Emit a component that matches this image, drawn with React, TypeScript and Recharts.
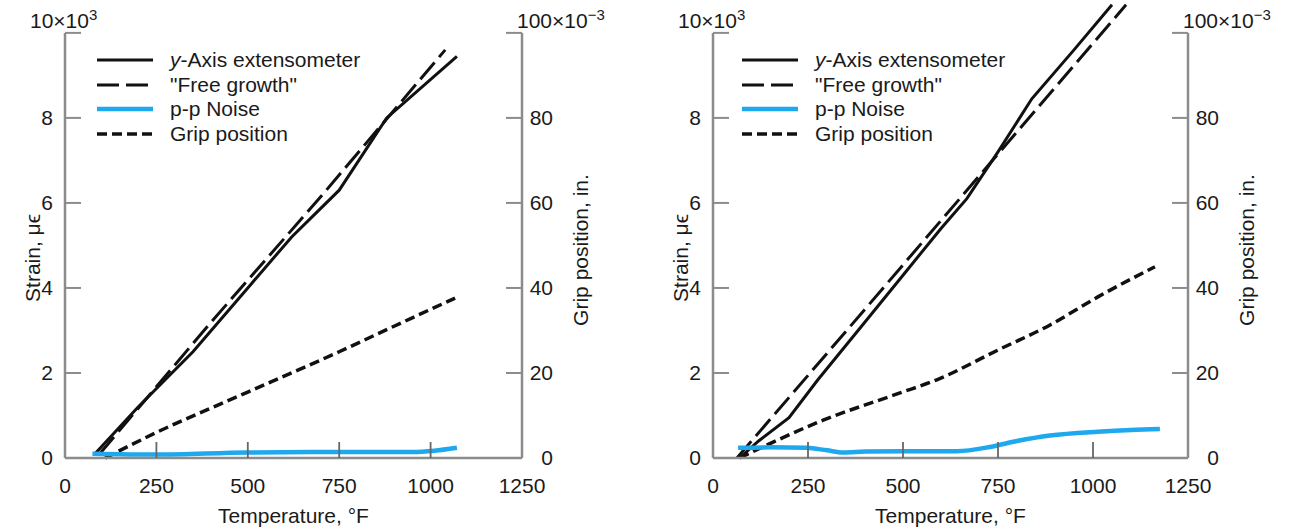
import React from 'react';
import { LineChart, Line, XAxis, YAxis, ReferenceLine, Legend, Label } from 'recharts';

// ---------- data ----------
const tempTicks = [0, 250, 500, 750, 1000, 1250];
const strainTicks = [0, 2, 4, 6, 8, 10];
const gripTicks = [0, 20, 40, 60, 80, 100];

// left panel (temperature °F, strain ×10^3 µε, grip ×10^-3 in.)
const leftExtensometer = [
  { t: 82, v: 0.1 }, { t: 200, v: 1.2 }, { t: 350, v: 2.5 }, { t: 500, v: 4.0 },
  { t: 620, v: 5.2 }, { t: 750, v: 6.3 }, { t: 880, v: 8.0 }, { t: 1072, v: 9.45 },
];
const leftFreeGrowth = [
  { t: 95, v: 0.1 }, { t: 400, v: 3.2 }, { t: 700, v: 6.15 }, { t: 1040, v: 9.6 },
];
const leftNoise = [
  { t: 75, v: 0.1 }, { t: 250, v: 0.08 }, { t: 500, v: 0.13 }, { t: 750, v: 0.14 },
  { t: 950, v: 0.14 }, { t: 1010, v: 0.17 }, { t: 1072, v: 0.24 },
];
const leftGrip = [
  { t: 110, v: 0 }, { t: 250, v: 6 }, { t: 500, v: 15.5 }, { t: 750, v: 25 },
  { t: 900, v: 31 }, { t: 1067, v: 37.6 },
];

// right panel
const rightExtensometer = [
  { t: 70, v: 0 }, { t: 120, v: 0.4 }, { t: 200, v: 0.95 }, { t: 276, v: 1.84 },
  { t: 400, v: 3.2 }, { t: 500, v: 4.3 }, { t: 600, v: 5.4 }, { t: 668, v: 6.1 },
  { t: 750, v: 7.2 }, { t: 839, v: 8.45 }, { t: 950, v: 9.6 }, { t: 1050, v: 10.66 },
];
const rightFreeGrowth = [
  { t: 63, v: 0 }, { t: 400, v: 3.5 }, { t: 750, v: 7.15 }, { t: 1087, v: 10.66 },
];
const rightNoise = [
  { t: 66, v: 0.24 }, { t: 150, v: 0.25 }, { t: 247, v: 0.24 }, { t: 300, v: 0.18 },
  { t: 342, v: 0.13 }, { t: 400, v: 0.15 }, { t: 500, v: 0.16 }, { t: 642, v: 0.16 },
  { t: 729, v: 0.26 }, { t: 800, v: 0.4 }, { t: 887, v: 0.53 }, { t: 1013, v: 0.62 },
  { t: 1100, v: 0.66 }, { t: 1176, v: 0.68 },
];
const rightGrip = [
  { t: 70, v: 0 }, { t: 290, v: 8.9 }, { t: 492, v: 15.3 }, { t: 589, v: 18.4 },
  { t: 750, v: 25.4 }, { t: 887, v: 31.3 }, { t: 1013, v: 37.9 }, { t: 1163, v: 45 },
];

const seriesNames = ['y-Axis extensometer', '"Free growth"', 'p-p Noise', 'Grip position'];

// ---------- styles ----------
const FONT = '"Liberation Sans", Arial, Helvetica, sans-serif';
const FS = 21;
const AXIS = '#8c8c8c';
const TXT = '#1a1a1a';
const BLACK = '#111111';
const BLUE = '#1ea8ee';

const styles = [
  { stroke: BLACK, width: 3, dash: undefined as string | undefined },
  { stroke: BLACK, width: 3, dash: '22 7' },
  { stroke: BLUE, width: 4.5, dash: undefined as string | undefined },
  { stroke: BLACK, width: 3.5, dash: '10 5' },
];

function StrainTick(props: any) {
  const { x, y, payload } = props;
  const v = payload.value;
  return (
    <g>
      {v !== 0 && <line x1={x} y1={y} x2={x + 16} y2={y} stroke={AXIS} strokeWidth={2} />}
      {v === 10 ? (
        <text x={x - 35} y={y - 5} fontSize={FS} fill={TXT} fontFamily={FONT}>
          10×10<tspan dy={-8} fontSize={15}>3</tspan>
        </text>
      ) : (
        <text x={x - 12} y={y + 7} textAnchor="end" fontSize={FS} fill={TXT} fontFamily={FONT}>
          {v}
        </text>
      )}
    </g>
  );
}

function GripTick(props: any) {
  const { x, y, payload } = props;
  const v = payload.value;
  return (
    <g>
      {v !== 0 && <line x1={x - 16} y1={y} x2={x} y2={y} stroke={AXIS} strokeWidth={2} />}
      {v === 100 ? (
        <text x={x - 5} y={y - 5} fontSize={FS} fill={TXT} fontFamily={FONT}>
          100×10<tspan dy={-8} fontSize={15}>−3</tspan>
        </text>
      ) : (
        <text x={x + 31} y={y + 7} textAnchor="end" fontSize={FS} fill={TXT} fontFamily={FONT}>
          {v}
        </text>
      )}
    </g>
  );
}

function TempTick(props: any) {
  const { x, y, payload } = props;
  const v = payload.value;
  return (
    <g>
      {v !== 0 && v !== 1250 && (
        <line x1={x} y1={y} x2={x} y2={y - 16} stroke="#666" strokeWidth={1.8} />
      )}
      <text x={x} y={y + 35} textAnchor="middle" fontSize={FS} fill={TXT} fontFamily={FONT}>
        {v}
      </text>
    </g>
  );
}

function LegendBox() {
  return (
    <div style={{ fontFamily: FONT }}>
      {seriesNames.map((name, i) => (
        <div key={name} style={{ display: 'flex', alignItems: 'center', height: 24.5 }}>
          <svg width={56} height={10} style={{ display: 'block' }}>
            <line x1={0} x2={56} y1={5} y2={5} stroke={styles[i].stroke}
              strokeWidth={styles[i].width} strokeDasharray={styles[i].dash} />
          </svg>
          <span style={{ marginLeft: 17, fontSize: FS, color: TXT, whiteSpace: 'nowrap', lineHeight: '24px' }}>
            {i === 0 ? (<><i>y</i>-Axis extensometer</>) : name}
          </span>
        </div>
      ))}
    </div>
  );
}

type PanelProps = {
  left: number;
  leftAxisW: number;
  rightAxisW: number;
  legendLeft: number;
  ext: { t: number; v: number }[];
  free: { t: number; v: number }[];
  noise: { t: number; v: number }[];
  grip: { t: number; v: number }[];
};

function Panel(p: PanelProps) {
  const W = 647;
  const H = 531;
  return (
    <div style={{ position: 'absolute', left: p.left, top: 0, width: W, height: H }}>
      <LineChart width={W} height={H} margin={{ top: 1, right: 0, bottom: 0, left: 0 }}>
        <XAxis type="number" dataKey="t" domain={[0, 1250]} ticks={tempTicks} interval={0}
          tickSize={0} tickMargin={0} tick={<TempTick />} tickLine={false} height={73}
          axisLine={{ stroke: AXIS, strokeWidth: 2.5 }}>
          <Label content={(lp: any) => {
            const vb = lp.viewBox;
            return (
              <text x={vb.x + vb.width / 2} y={vb.y + 65} textAnchor="middle" fontSize={FS}
                fill={TXT} fontFamily={FONT}>Temperature, °F</text>
            );
          }} />
        </XAxis>
        <YAxis yAxisId="strain" orientation="left" type="number" domain={[0, 10.75]}
          ticks={strainTicks} interval={0} width={p.leftAxisW} tickSize={0} tickMargin={0}
          tick={<StrainTick />} tickLine={false} axisLine={false}>
          <Label content={(lp: any) => {
            const vb = lp.viewBox;
            const cx = vb.x + vb.width - 33;
            const cy = vb.y + vb.height - 200;
            return (
              <text x={cx} y={cy} transform={`rotate(-90, ${cx}, ${cy})`} textAnchor="middle"
                dominantBaseline="central" fontSize={FS} fill={TXT} fontFamily={FONT}>Strain, μϵ</text>
            );
          }} />
        </YAxis>
        <YAxis yAxisId="grip" orientation="right" type="number" domain={[0, 107.5]}
          ticks={gripTicks} interval={0} width={p.rightAxisW} tickSize={0} tickMargin={0}
          tick={<GripTick />} tickLine={false} axisLine={false}>
          <Label content={(lp: any) => {
            const vb = lp.viewBox;
            const cx = vb.x + 58;
            const cy = vb.y + vb.height - 208;
            return (
              <text x={cx} y={cy} transform={`rotate(-90, ${cx}, ${cy})`} textAnchor="middle"
                dominantBaseline="central" fontSize={FS} fill={TXT} fontFamily={FONT}>Grip position, in.</text>
            );
          }} />
        </YAxis>
        <ReferenceLine yAxisId="strain" segment={[{ x: 0, y: 0 }, { x: 0, y: 10 }]}
          stroke={AXIS} strokeWidth={2.5} />
        <ReferenceLine yAxisId="strain" segment={[{ x: 1250, y: 0 }, { x: 1250, y: 10 }]}
          stroke={AXIS} strokeWidth={2.5} />
        <Legend layout="vertical" align="center" verticalAlign="middle"
          content={() => <LegendBox />}
          wrapperStyle={{ position: 'absolute', left: p.legendLeft, top: 47.75, width: 'auto', height: 'auto' }} />
        <Line yAxisId="grip" data={p.grip} dataKey="v" name={seriesNames[3]} type="monotone"
          stroke={styles[3].stroke} strokeWidth={styles[3].width} strokeDasharray={styles[3].dash}
          dot={false} activeDot={false} isAnimationActive={false} />
        <Line yAxisId="strain" data={p.free} dataKey="v" name={seriesNames[1]} type="linear"
          stroke={styles[1].stroke} strokeWidth={styles[1].width} strokeDasharray={styles[1].dash}
          dot={false} activeDot={false} isAnimationActive={false} />
        <Line yAxisId="strain" data={p.ext} dataKey="v" name={seriesNames[0]} type="linear"
          stroke={styles[0].stroke} strokeWidth={styles[0].width}
          dot={false} activeDot={false} isAnimationActive={false} />
        <Line yAxisId="strain" data={p.noise} dataKey="v" name={seriesNames[2]} type="monotone"
          stroke={styles[2].stroke} strokeWidth={styles[2].width}
          dot={false} activeDot={false} isAnimationActive={false} />
      </LineChart>
    </div>
  );
}

export default function App() {
  return (
    <div style={{ position: 'absolute', left: 0, top: 0, width: 1294, height: 531, background: '#fff' }}>
      <Panel left={0} leftAxisW={65} rightAxisW={125} legendLeft={97}
        ext={leftExtensometer} free={leftFreeGrowth} noise={leftNoise} grip={leftGrip} />
      <Panel left={647} leftAxisW={66} rightAxisW={106} legendLeft={95}
        ext={rightExtensometer} free={rightFreeGrowth} noise={rightNoise} grip={rightGrip} />
    </div>
  );
}
